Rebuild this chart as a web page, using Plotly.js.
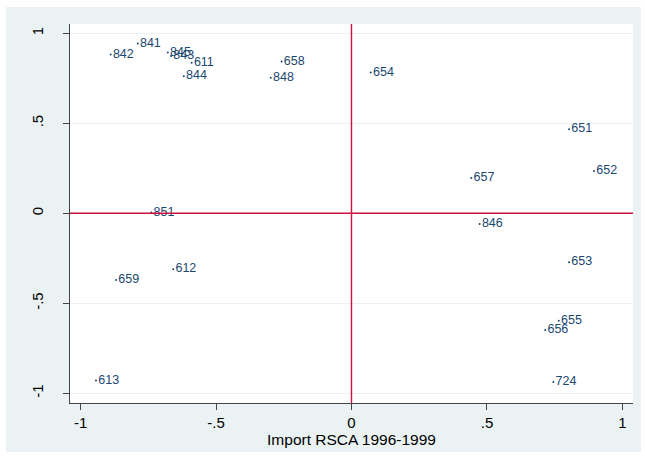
<!DOCTYPE html>
<html>
<head>
<meta charset="utf-8">
<script src="https://cdn.plot.ly/plotly-3.0.1.min.js"></script>
<style>
  html, body { margin: 0; padding: 0; background: #ffffff; }
  #chart { position: absolute; left: 6px; top: 7px; width: 635px; height: 445px; }
</style>
</head>
<body>
<div id="chart"></div>
<script>
// Data
const labels = ["841","842","845","843","611","844","658","848","654","651","652","657","851","612","659","846","653","655","656","724","613"];
const xValues = [-0.789,-0.889,-0.678,-0.666,-0.590,-0.619,-0.258,-0.298,0.071,0.803,0.895,0.442,-0.739,-0.658,-0.869,0.473,0.803,0.765,0.715,0.745,-0.943];
const yValues = [0.944,0.883,0.894,0.874,0.837,0.761,0.844,0.753,0.783,0.467,0.235,0.196,0.005,-0.311,-0.371,-0.059,-0.272,-0.597,-0.648,-0.937,-0.929];

const tickVals = [-1,-0.5,0,0.5,1];
const tickText = ["-1","-.5","0",".5","1"];
const xTitle = "Import RSCA 1996-1999";

const font = "Liberation Sans, Arial, sans-serif";

const trace = {
  type: "scatter",
  mode: "markers+text",
  x: xValues,
  y: yValues,
  text: labels,
  textposition: "middle right",
  textfont: { family: font, size: 12.5, color: "#1a476f" },
  marker: { size: 2, color: "#1a476f" },
  hoverinfo: "none",
  showlegend: false,
  cliponaxis: false
};

const layout = {
  width: 635,
  height: 445,
  margin: { l: 64, r: 8, t: 17, b: 49 },
  paper_bgcolor: "#eaf2f3",
  plot_bgcolor: "#ffffff",
  font: { family: font, size: 15, color: "#000000" },
  xaxis: {
    range: [-1.039, 1.039],
    tickvals: tickVals,
    ticktext: tickText,
    showgrid: false,
    zeroline: false,
    showline: true,
    linecolor: "#444444",
    linewidth: 1,
    ticks: "outside",
    ticklen: 6,
    tickcolor: "#444444",
    ticklabelstandoff: 0,
    tickfont: { family: font, size: 15, color: "#000000" },
    title: { text: xTitle, font: { family: font, size: 15.5, color: "#000000" }, standoff: 0 }
  },
  yaxis: {
    range: [-1.054, 1.052],
    tickvals: tickVals,
    ticktext: tickText,
    tickangle: -90,
    showgrid: true,
    gridcolor: "#eaf2f3",
    gridwidth: 1,
    zeroline: false,
    showline: true,
    linecolor: "#444444",
    linewidth: 1,
    ticks: "outside",
    ticklen: 6,
    tickcolor: "#444444",
    ticklabelstandoff: 14,
    tickfont: { family: font, size: 15, color: "#000000" }
  },
  shapes: [
    { type: "line", xref: "x", yref: "paper", x0: 0, x1: 0, y0: 0, y1: 1, line: { color: "#cc1040", width: 1.4 } },
    { type: "line", xref: "paper", yref: "y", x0: 0, x1: 1, y0: 0, y1: 0, line: { color: "#cc1040", width: 1.4 } }
  ]
};

Plotly.newPlot("chart", [trace], layout, { staticPlot: true, displayModeBar: false });
</script>
</body>
</html>
